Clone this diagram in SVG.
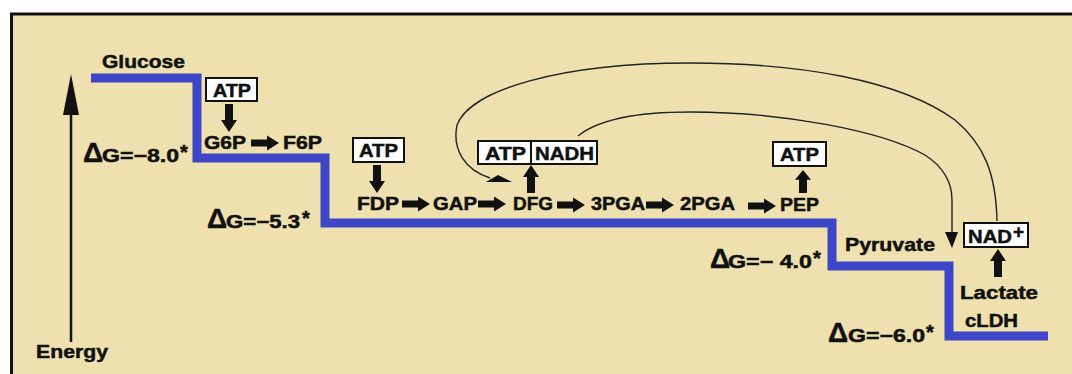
<svg xmlns="http://www.w3.org/2000/svg" width="1072" height="374" viewBox="0 0 1072 374">
  <style>
    .t { font-family: "Liberation Sans", Arial, sans-serif; font-weight: bold; font-size: 19px; fill: #111; stroke: #111; stroke-width: 0.5; }
    .box { fill: #fff; stroke: #111; stroke-width: 2; }
    .curve { fill: none; stroke: #222; stroke-width: 1.4; }
    .blk { fill: #111; }
  </style>
  <defs>
    <path id="harrow" d="M0,-3.5 H16 V-7.5 L28,0 L16,7.5 V3.5 H0 Z"/>
    <path id="darrow" d="M-4,0 H4 V16 H8 L0,28 L-8,16 H-4 Z"/>
    <path id="uarrow" d="M-4,28 H4 V12 H8 L0,0 L-8,12 H-4 Z"/>
  </defs>

  <rect x="0" y="0" width="1072" height="374" fill="#ffffff"/>
  <rect id="frame" x="11.5" y="14" width="1080" height="400" fill="#EEE1AF" stroke="#111" stroke-width="3"/>

  <!-- energy axis -->
  <g id="energy-axis">
    <line x1="71" y1="100" x2="71" y2="342" stroke="#111" stroke-width="2.5"/>
    <polygon points="71,74 79,115 63,115" class="blk"/>
    <text class="t" x="36" y="358" textLength="72" lengthAdjust="spacingAndGlyphs">Energy</text>
  </g>

  <!-- energy level line -->
  <g id="levels">
    <path d="M91,78 H197 V158 H325 V223 H832 V266 H949 V336 H1048" fill="none" stroke="#3C46C6" stroke-width="9"/>
  </g>

  <!-- connectors -->
  <g id="connectors">
    <use href="#harrow" transform="translate(251,143)" class="blk"/>
    <use href="#harrow" transform="translate(402,204)" class="blk"/>
    <use href="#harrow" transform="translate(478,204)" class="blk"/>
    <use href="#harrow" transform="translate(557,205)" class="blk"/>
    <use href="#harrow" transform="translate(646,205)" class="blk"/>
    <use href="#harrow" transform="translate(748,206)" class="blk"/>
    <use href="#darrow" transform="translate(229,104)" class="blk"/>
    <use href="#darrow" transform="translate(377,165)" class="blk"/>
    <use href="#uarrow" transform="translate(531,165)" class="blk"/>
    <use href="#uarrow" transform="translate(803,170) scale(1,0.82)" class="blk"/>
    <use href="#uarrow" transform="translate(998,249)" class="blk"/>
    <!-- NAD+ back to DFG -->
    <path class="curve" d="M997,221 C996,175 985,145 955,120 C900,80 800,63 690,63 C560,63 470,90 457,125 C452,150 465,170 490,178"/>
    <path class="blk" d="M486,182 L498,175 L512,182 Z"/>
    <!-- NADH to Pyruvate -->
    <path class="curve" d="M578,136 C600,118 640,112 690,112 C780,112 880,130 925,155 C945,168 952,185 952,200 L952,234"/>
    <polygon class="blk" points="945,232 958,232 952,248"/>
  </g>

  <g id="glucose"><text class="t" x="102" y="68" textLength="83" lengthAdjust="spacingAndGlyphs">Glucose</text></g>
  <g id="atp1">
    <rect class="box" x="206" y="78" width="51" height="23"/>
    <text class="t" x="213" y="97" textLength="38" lengthAdjust="spacingAndGlyphs">ATP</text>
  </g>
  <g id="g6p"><text class="t" x="204" y="149" textLength="42" lengthAdjust="spacingAndGlyphs">G6P</text></g>
  <g id="f6p"><text class="t" x="283" y="149" textLength="39" lengthAdjust="spacingAndGlyphs">F6P</text></g>
  <g id="dg1">
    <text class="t"><tspan x="83" y="162" font-size="28">Δ</tspan><tspan x="102" y="162" font-size="18" textLength="77" lengthAdjust="spacingAndGlyphs">G=−8.0</tspan><tspan x="180" y="159" font-size="20">*</tspan></text>
  </g>

  <g id="atp2">
    <rect class="box" x="353" y="138" width="51" height="24"/>
    <text class="t" x="359" y="157" textLength="39" lengthAdjust="spacingAndGlyphs">ATP</text>
  </g>
  <g id="fdp"><text class="t" x="357" y="210" textLength="42" lengthAdjust="spacingAndGlyphs">FDP</text></g>
  <g id="gap"><text class="t" x="433" y="210" textLength="44" lengthAdjust="spacingAndGlyphs">GAP</text></g>
  <g id="dfg"><text class="t" x="513" y="210" textLength="40" lengthAdjust="spacingAndGlyphs">DFG</text></g>
  <g id="pga3"><text class="t" x="591" y="210" textLength="54" lengthAdjust="spacingAndGlyphs">3PGA</text></g>
  <g id="pga2"><text class="t" x="680" y="210" textLength="55" lengthAdjust="spacingAndGlyphs">2PGA</text></g>
  <g id="pep"><text class="t" x="780" y="211" textLength="39" lengthAdjust="spacingAndGlyphs">PEP</text></g>
  <g id="dg2">
    <text class="t"><tspan x="207" y="228" font-size="28">Δ</tspan><tspan x="226" y="228" font-size="18" textLength="74" lengthAdjust="spacingAndGlyphs">G=−5.3</tspan><tspan x="302" y="225" font-size="20">*</tspan></text>
  </g>

  <g id="atp-nadh">
    <rect class="box" x="478" y="141" width="119" height="23"/>
    <line x1="531" y1="141" x2="531" y2="164" stroke="#111" stroke-width="2"/>
    <text class="t" x="485" y="160" textLength="41" lengthAdjust="spacingAndGlyphs">ATP</text>
    <text class="t" x="535" y="160" textLength="59" lengthAdjust="spacingAndGlyphs">NADH</text>
  </g>

  <g id="atp3">
    <rect class="box" x="773" y="142" width="53" height="24"/>
    <text class="t" x="780" y="161" textLength="39" lengthAdjust="spacingAndGlyphs">ATP</text>
  </g>

  <g id="pyruvate"><text class="t" x="845" y="251" textLength="90" lengthAdjust="spacingAndGlyphs">Pyruvate</text></g>
  <g id="dg3">
    <text class="t"><tspan x="710" y="268" font-size="28">Δ</tspan><tspan x="728" y="268" font-size="18" textLength="84" lengthAdjust="spacingAndGlyphs">G=− 4.0</tspan><tspan x="813" y="265" font-size="20">*</tspan></text>
  </g>

  <g id="nad">
    <rect class="box" x="964" y="223" width="64" height="24"/>
    <text class="t" x="968" y="243" textLength="44" lengthAdjust="spacingAndGlyphs">NAD</text>
    <text class="t" x="1013" y="238" font-size="18">+</text>
  </g>
  <g id="lactate"><text class="t" x="960" y="299" textLength="78" lengthAdjust="spacingAndGlyphs">Lactate</text></g>
  <g id="cldh"><text class="t" x="965" y="327" textLength="53" lengthAdjust="spacingAndGlyphs">cLDH</text></g>
  <g id="dg4">
    <text class="t"><tspan x="828" y="342" font-size="28">Δ</tspan><tspan x="848" y="342" font-size="18" textLength="77" lengthAdjust="spacingAndGlyphs">G=−6.0</tspan><tspan x="926" y="339" font-size="20">*</tspan></text>
  </g>
</svg>
